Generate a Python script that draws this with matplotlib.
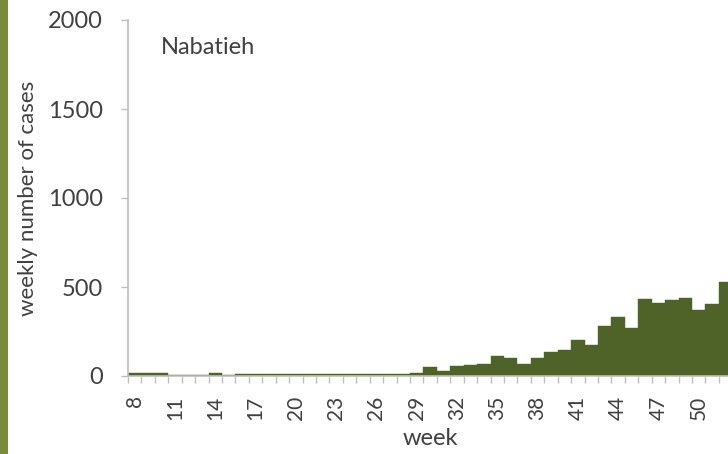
import numpy as np
import matplotlib.pyplot as plt
from matplotlib.patches import Rectangle

weeks = list(range(8, 53))
cases = [15, 15, 15, 3, 3, 3, 18, 3, 10, 10,
         10, 10, 10, 10, 10, 10, 10, 10, 10, 10,
         12, 15, 50, 30, 55, 60, 70, 112, 100, 70,
         100, 135, 145, 200, 175, 280, 330, 270, 430, 410,
         425, 437, 370, 405, 528]
tick_weeks = list(range(8, 53, 3))

bar_color = "#4f6228"
axis_color = "#bfbfbf"
text_color = "#404040"

plt.rcParams['font.family'] = ['Lato', 'DejaVu Sans']

fig = plt.figure(figsize=(7.28, 4.54), dpi=100)
fig.patch.set_facecolor("white")
# green strip on the left edge
fig.patches.append(Rectangle((0, 0), 8/728, 1, transform=fig.transFigure,
                             facecolor="#7b8b3b", edgecolor="none", zorder=0))

px_week = 13.43
ax = fig.add_axes([128/728, 78/454, 45*px_week/728, 356/454])
ax.bar(weeks, cases, width=1.0, color=bar_color, edgecolor=bar_color, linewidth=0.3)

ax.set_xlim(7.5, 52.5)
ax.set_ylim(0, 2000)
ax.set_yticks([0, 500, 1000, 1500, 2000])

ax.set_xticks(tick_weeks)
ax.set_xticklabels([str(w) for w in tick_weeks], rotation=90)
ax.set_xticks(np.arange(7.5, 53.0, 1.0), minor=True)
ax.tick_params(axis='x', which='major', length=0, pad=14, labelsize=15, labelcolor=text_color)
ax.tick_params(axis='x', which='minor', length=5, direction='out', color=axis_color, width=1)
ax.tick_params(axis='y', length=5, direction='out', color=axis_color, width=1,
               labelsize=17, labelcolor=text_color, pad=13)

for side in ["top", "right"]:
    ax.spines[side].set_visible(False)
for side in ["left", "bottom"]:
    ax.spines[side].set_color(axis_color)
    ax.spines[side].set_linewidth(1.2)

ax.set_xlabel("week", fontsize=17, color=text_color, labelpad=6)
ax.set_ylabel("weekly number of cases", fontsize=16, color=text_color, labelpad=7)
ax.text(0.055, 0.905, "Nabatieh", transform=ax.transAxes, fontsize=17,
        color=text_color)

fig.savefig("out.png", dpi=100)
